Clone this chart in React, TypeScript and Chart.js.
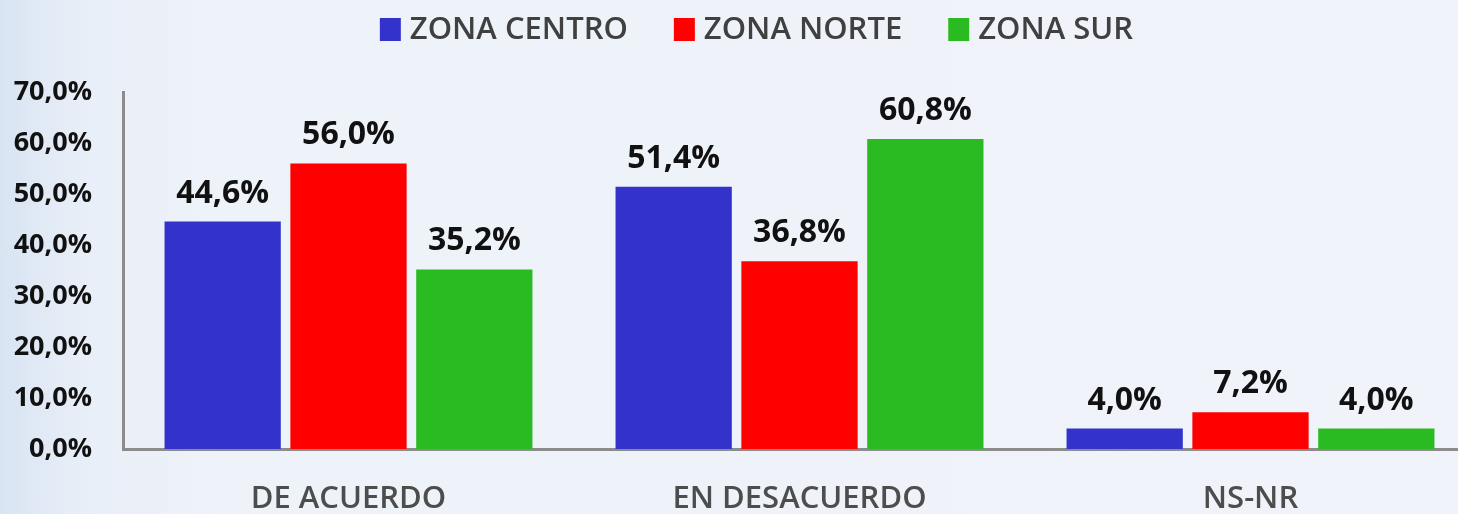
import React, { useEffect, useRef } from "react";
import { Chart, registerables } from "chart.js";

Chart.register(...registerables);

const categories = ["DE ACUERDO", "EN DESACUERDO", "NS-NR"];
const seriesNames = ["ZONA CENTRO", "ZONA NORTE", "ZONA SUR"];
const zonaCentro = [44.6, 51.4, 4.0];
const zonaNorte = [56.0, 36.8, 7.2];
const zonaSur = [35.2, 60.8, 4.0];
const seriesColors = ["#3333CC", "#FF0000", "#2ABB22"];
const yTickValues = [0, 10, 20, 30, 40, 50, 60, 70];

const fmt = (v: number) => v.toFixed(1).replace(".", ",") + "%";

const CANVAS_W = 1480;
const CANVAS_H = 514;
const FONT = "'Open Sans', 'DejaVu Sans', sans-serif";

const dataLabelsPlugin = {
  id: "dataLabels",
  afterDatasetsDraw(chart: any) {
    const ctx = chart.ctx;
    ctx.save();
    ctx.font = `bold 32px ${FONT}`;
    ctx.fillStyle = "#111111";
    ctx.textAlign = "center";
    ctx.textBaseline = "alphabetic";
    chart.data.datasets.forEach((ds: any, di: number) => {
      const meta = chart.getDatasetMeta(di);
      meta.data.forEach((bar: any, i: number) => {
        ctx.fillText(fmt(ds.data[i]), bar.x, bar.y - 19);
      });
    });
    ctx.restore();
  },
};

const customLegendPlugin = {
  id: "customLegend",
  afterDraw(chart: any) {
    const ctx = chart.ctx;
    ctx.save();
    ctx.font = `600 31px ${FONT}`;
    ctx.textBaseline = "middle";
    ctx.textAlign = "left";
    const boxW = 21;
    const boxH = 23;
    const gapBoxText = 9;
    const gapItems = 46;
    const items = chart.data.datasets.map((ds: any) => ({
      text: ds.label,
      color: ds.backgroundColor,
      w: ctx.measureText(ds.label).width,
    }));
    let total = 0;
    items.forEach((it: any, i: number) => {
      total += boxW + gapBoxText + it.w + (i < items.length - 1 ? gapItems : 0);
    });
    let x = 756.5 - total / 2;
    const cy = 29.5;
    items.forEach((it: any) => {
      ctx.fillStyle = it.color;
      ctx.fillRect(x, cy - boxH / 2, boxW, boxH);
      x += boxW + gapBoxText;
      ctx.fillStyle = "#404040";
      ctx.fillText(it.text, x, cy + 1);
      x += it.w + gapItems;
    });
    ctx.restore();
  },
};

export default function App() {
  const canvasRef = useRef<HTMLCanvasElement | null>(null);

  useEffect(() => {
    if (!canvasRef.current) return;
    const chart = new Chart(canvasRef.current, {
      type: "bar",
      data: {
        labels: categories,
        datasets: [
          { label: seriesNames[0], data: zonaCentro, backgroundColor: seriesColors[0] },
          { label: seriesNames[1], data: zonaNorte, backgroundColor: seriesColors[1] },
          { label: seriesNames[2], data: zonaSur, backgroundColor: seriesColors[2] },
        ],
      },
      options: {
        responsive: false,
        animation: false,
        devicePixelRatio: 1,
        layout: { padding: { top: 92, left: 0, right: CANVAS_W - 1476, bottom: 0 } },
        datasets: {
          bar: { categoryPercentage: 0.837, barPercentage: 0.924 },
        },
        plugins: {
          legend: { display: false },
          tooltip: { enabled: false },
          title: { display: false },
        },
        scales: {
          x: {
            grid: { display: false },
            border: { display: true, color: "#8c8c8c", width: 3 },
            ticks: {
              color: "#4d4d4d",
              font: { family: FONT, size: 31, weight: "600" },
              padding: 24,
            },
            afterFit(scale: any) {
              scale.height = 65;
            },
          },
          y: {
            min: 0,
            max: 70,
            grid: { display: false },
            border: { display: true, color: "#8c8c8c", width: 3 },
            afterBuildTicks(scale: any) {
              scale.ticks = yTickValues.map((v) => ({ value: v }));
            },
            ticks: {
              color: "#111111",
              font: { family: FONT, size: 27, weight: "bold" },
              padding: 23,
              callback: (v: any) => fmt(Number(v)),
            },
            afterFit(scale: any) {
              scale.width = 123;
            },
          },
        },
      },
      plugins: [dataLabelsPlugin, customLegendPlugin],
    } as any);
    return () => chart.destroy();
  }, []);

  return (
    <div
      style={{
        position: "absolute",
        left: 0,
        top: 0,
        width: 1458,
        height: 514,
        overflow: "hidden",
        background:
          "linear-gradient(to right, #d9e4f2 0%, #e9eff8 6%, #eef2f9 15%, #f0f3f9 100%)",
      }}
    >
      <canvas
        ref={canvasRef}
        width={CANVAS_W}
        height={CANVAS_H}
        style={{ display: "block", width: CANVAS_W, height: CANVAS_H }}
      />
    </div>
  );
}
